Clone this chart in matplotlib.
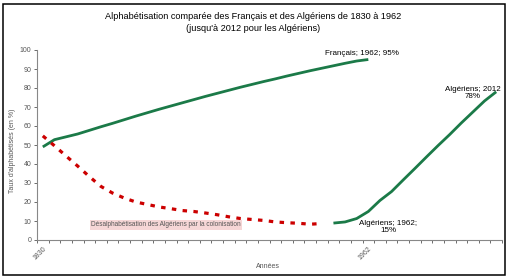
#!/usr/bin/env python3
"""
Alphabetisation comparee des Francais et des Algeriens, 1830 - 1962 (2012)
"""

import matplotlib
matplotlib.use('Agg')  # Non-interactive backend
import matplotlib.pyplot as plt
from matplotlib.patches import Rectangle
import numpy as np

# Category axis (Excel-like): 40 categories, only two labelled
n_categories = 40
category_labels = {0: '1830', 28: '1962'}

# Francais: categories 0..28 (1830 -> 1962)
francais = [49.0, 52.8, 54.3, 55.8, 57.7, 59.6, 61.4, 63.3, 65.2, 67.0,
            68.8, 70.5, 72.2, 73.9, 75.6, 77.2, 78.8, 80.4, 81.9, 83.4,
            84.8, 86.3, 87.7, 89.1, 90.4, 91.7, 93.0, 94.2, 95.0]

# Algeriens during colonisation (dashed): categories 0..24
desalpha = [54.8, 49.6, 44.2, 38.9, 33.4, 28.2, 24.7, 22.1, 20.0, 18.7,
            17.4, 16.5, 15.5, 15.0, 14.2, 13.3, 12.2, 11.3, 10.8, 10.3,
            9.5, 9.1, 8.8, 8.3, 8.7]

# Algeriens after: categories 25..39 (-> 2012)
algeriens = [8.9, 9.5, 11.3, 15.0, 20.8, 25.5, 31.6, 37.6, 43.7, 49.7,
             55.5, 61.6, 67.4, 73.2, 78.0]

GREEN = '#1b7a48'
RED = '#cc0000'
GREY = '#555555'

plt.rcParams['font.family'] = ['Liberation Sans', 'DejaVu Sans']

fig = plt.figure(figsize=(5.11, 2.80), dpi=100)
ax = fig.add_axes([37 / 511, 1 - 240 / 280, 465 / 511, 190 / 280])

x_fr = np.arange(len(francais))
x_des = np.arange(len(desalpha))
x_alg = np.arange(len(algeriens)) + len(desalpha)

ax.plot(x_fr, francais, color=GREEN, lw=2.0, solid_capstyle='butt')
ax.plot(x_alg, algeriens, color=GREEN, lw=2.0, solid_capstyle='butt')
ax.plot(x_des, desalpha, color=RED, lw=2.3, dashes=(1.4, 2.0),
        dash_capstyle='butt')

# Axes
ax.set_xlim(-0.5, n_categories - 0.5)
ax.set_ylim(0, 100)
ax.set_yticks(np.arange(0, 101, 10))
ax.tick_params(axis='y', labelsize=5, colors=GREY, length=2.5, width=0.6, pad=1.5)

ax.set_xticks(np.arange(-0.5, n_categories, 1))
ax.set_xticklabels([])
ax.tick_params(axis='x', which='major', length=2.5, width=0.6, colors=GREY)
ax.set_xticks(list(category_labels.keys()), minor=True)
ax.set_xticklabels(list(category_labels.values()), minor=True,
                   rotation=45, ha='right', rotation_mode='anchor')
ax.tick_params(axis='x', which='minor', length=0, labelsize=5,
               labelcolor=GREY, pad=4)

for side in ['top', 'right']:
    ax.spines[side].set_visible(False)
for side in ['left', 'bottom']:
    ax.spines[side].set_color('#888888')
    ax.spines[side].set_linewidth(0.8)

ax.set_ylabel("Taux d'alphabétisés (en %)", fontsize=5, color=GREY)
ax.yaxis.set_label_coords(-0.045, 0.47)
fig.text(268 / 511, 1 - 267 / 280, 'Années', fontsize=5, color=GREY,
         ha='center', va='center')

# Data labels
ax.text(27.46, 98.4, 'Français; 1962; 95%', fontsize=5.8, ha='center', va='center')
ax.text(37.0, 77.4, 'Algériens; 2012\n78%', fontsize=5.8, ha='center', va='center',
        linespacing=1.15)
ax.text(29.7, 6.8, 'Algériens; 1962;\n15%', fontsize=5.8, ha='center', va='center',
        linespacing=1.15)
ax.text(10.6, 7.9, 'Désalphabétisation des Algériens par la colonisation',
        fontsize=4.7, ha='center', va='center', color='#555555',
        bbox=dict(boxstyle='square,pad=0.25', fc='#f6d6d6', ec='none'))

# Title
fig.text(253 / 511, 1 - 22.5 / 280,
         "Alphabétisation comparée des Français et des Algériens de 1830 à 1962\n"
         "(jusqu'à 2012 pour les Algériens)",
         fontsize=6.6, ha='center', va='center', linespacing=1.4)

# Outer frame
fig.patches.append(Rectangle((3 / 511, 1 - 275 / 280), 502 / 511, 271 / 280,
                             transform=fig.transFigure, fill=False,
                             ec='black', lw=1.1))

fig.savefig('out.png', dpi=100)
plt.close(fig)
